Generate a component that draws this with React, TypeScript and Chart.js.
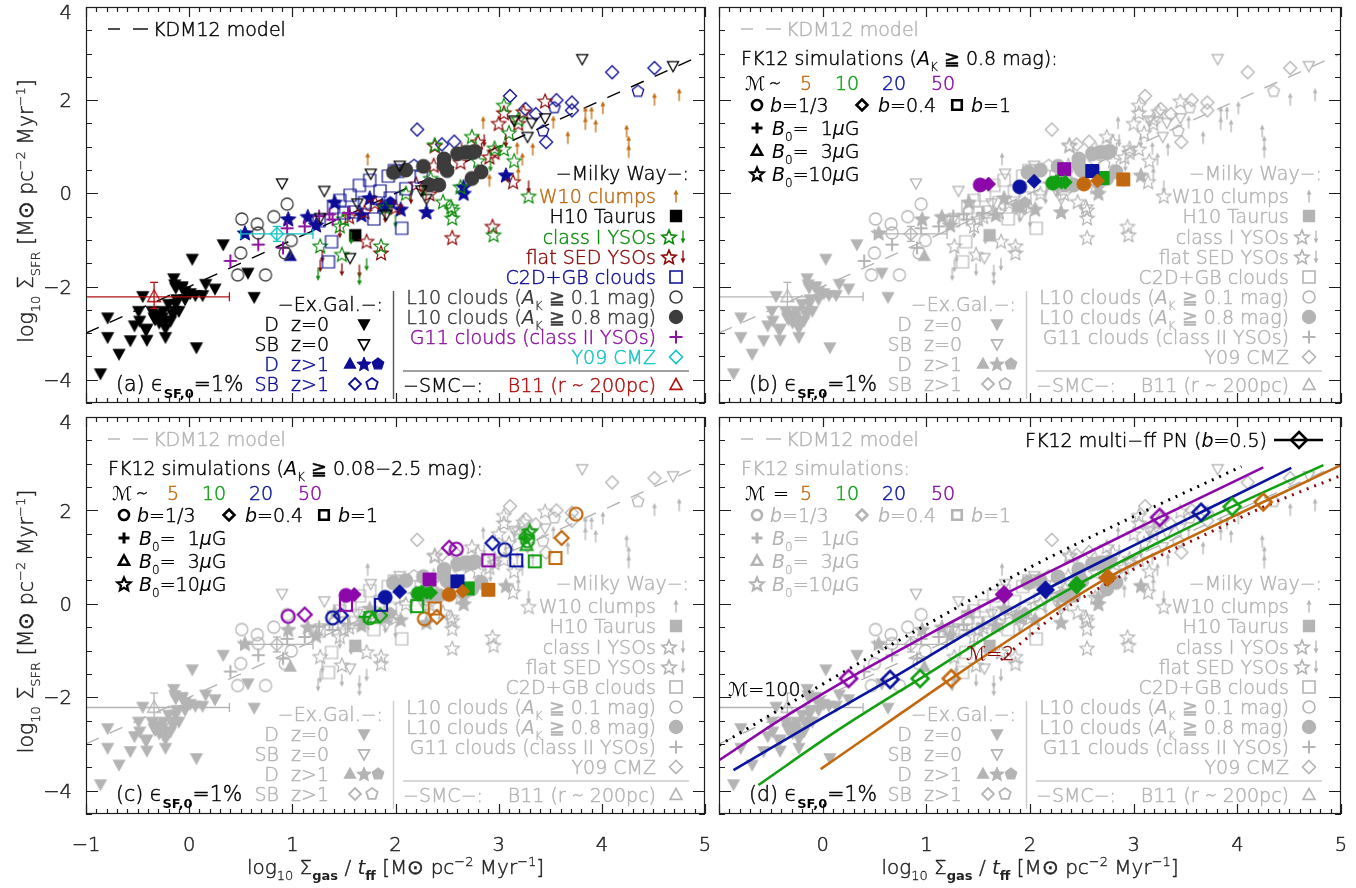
import React, { useEffect, useRef } from "react";
import { Chart, registerables } from "chart.js";

Chart.register(...registerables);

// ---------------- data (log10 Σgas/tff , log10 ΣSFR) ----------------
const kdmX = [-1, 5];
const kdmY = [-3, 3];

// Ex.Gal. D z=0 (filled down triangles)
const dz0X = [0.33, 0.03, 0.57, -0.15, -0.07, 0.16, 0.25, 0.63, -0.45, -0.79, -0.79, -0.68, -0.57, -0.41, -0.23, 0.07, -0.86, -0.42, -0.49, -0.34, -0.29, -0.23, -0.31, -0.16, -0.13, -0.04, -0.12, -0.07, 0.01, 0.06, 0.13, -0.2, -0.25, -0.36, -0.33, -0.26, -0.18, -0.14, -0.1, -0.13, -0.14, -0.04, -0.41, -0.53, -0.48, -0.23];
const dz0Y = [-1.09, -1.4, -1.7, -1.82, -1.99, -1.94, -2.04, -2.22, -2.2, -2.66, -3.08, -3.44, -3.15, -3.14, -3.08, -3.3, -3.86, -2.93, -2.52, -2.66, -2.77, -2.73, -2.59, -2.59, -2.37, -2.27, -2.27, -2.02, -2.14, -2.18, -2.18, -2.37, -2.52, -2.52, -2.7, -2.66, -2.73, -2.52, -2.52, -2.02, -1.95, -2.1, -2.9, -2.83, -2.73, -2.89];
// SB z=0 (open down triangles)
const sbz0X = [0.9, 1.31, 1.76, 3.81, 4.69, 3.32, 3.45, 3.15, 3.28, 2.04, 2.25, 2.3, 1.27, 1.56, 1.91, 1.63];
const sbz0Y = [0.22, 0.06, 0.43, 2.89, 2.74, 1.52, 1.62, 1.57, 1.22, 0.6, 0.07, -0.11, -0.52, -1.38, -0.45, -0.21];
// D z>1
const dz1TriX = [0.98, 1.9];
const dz1TriY = [-1.35, -0.3];
const dz1StarX = [1.41, 1.87, 3.07, 2.66, 2.66, 0.54, 0.96, 1.23, 1.67, 2.05, 2.3, 1.15, 1.75];
const dz1StarY = [-0.19, -0.26, 0.39, 0.14, 0.0, -0.85, -0.55, -0.68, -0.46, -0.34, -0.4, -0.5, -0.1];
const dz1PentX = [1.95];
const dz1PentY = [-0.2];
// SB z>1
const sbz1DiaX = [2.21, 3.11, 3.56, 3.71, 3.71, 3.36, 3.26, 3.46, 4.1, 4.51, 2.57, 2.45];
const sbz1DiaY = [1.37, 2.09, 2.0, 1.95, 1.78, 1.7, 1.81, 1.1, 2.6, 2.69, 1.11, 1.05];
const sbz1PentX = [4.35, 3.43, 2.18, 3.54];
const sbz1PentY = [2.19, 1.34, 0.6, 1.84];
// Milky Way
const w10X = [2.85, 3.84, 3.9, 4.01, 3.84, 3.94, 3.67, 3.53, 3.33, 3.23, 3.19, 2.91, 4.24, 4.26, 4.26, 4.51, 4.75, 1.73, 3.18];
const w10Y = [1.52, 1.73, 1.73, 1.84, 1.5, 1.45, 1.2, 1.53, 0.95, 0.74, 0.42, 0.28, 1.34, 1.1, 0.9, 2.02, 2.12, 0.74, 0.97];
const h10X = [1.61];
const h10Y = [-0.9];
const cl1StarX = [3.05, 3.19, 2.74, 2.38, 3.15, 3.29, 2.46, 2.54, 2.34, 2.63, 3.05, 2.96, 2.55, 2.55, 2.95, 1.27, 1.48, 1.86, 1.46, 1.5, 2.1, 2.8, 3.1, 1.9];
const cl1StarY = [1.89, 1.59, 1.22, 1.04, 0.7, -0.06, -0.18, -0.29, 0.32, 0.14, 0.95, 0.97, -0.36, -0.53, -0.89, -1.13, -1.31, -1.13, -0.7, -0.55, 0.0, 0.7, 1.3, -0.3];
const cl1ArrX = [1.25, 1.65, 1.72, 1.57, 2.92, 2.27, 2.0, 2.7];
const cl1ArrY = [-1.74, -1.84, -1.53, -0.96, 0.6, 0.05, -0.6, 0.9];
const flatStarX = [3.45, 3.05, 3.24, 2.38, 2.91, 3.14, 2.63, 2.37, 3.19, 2.96, 2.33, 2.94, 2.55, 1.72, 1.86, 1.7, 1.8, 2.0, 2.2, 2.8, 3.0, 1.55];
const flatStarY = [1.98, 1.73, 1.75, 1.02, 0.78, 0.25, 0.67, 0.6, 1.5, 0.88, -0.01, -0.71, -0.95, -1.03, -1.28, -0.4, -0.2, -0.3, 0.2, 1.1, 1.5, -0.5];
const flatArrX = [1.48, 1.65, 1.27, 1.29, 1.46, 2.26, 3.29, 2.86, 3.07, 2.64, 1.9, 2.15];
const flatArrY = [-1.64, -1.67, -1.56, -1.35, -0.83, 0.11, 0.14, 1.13, 1.12, 0.95, -0.5, -0.1];
const c2dX = [1.93, 1.75, 1.65, 1.56, 1.46, 1.99, 1.38, 1.35, 1.26, 1.5, 1.6, 1.79, 2.06, 2.02, 1.85, 1.7, 2.1, 1.95, 1.4, 2.25];
const c2dY = [0.37, 0.28, 0.17, -0.04, -0.15, 0.49, -1.04, -1.47, -0.59, -0.42, -0.4, -0.55, -0.75, 0.47, 0.05, -0.2, 0.1, -0.1, -0.3, 0.35];
const l10LoX = [0.95, 0.51, 0.66, 0.67, 0.5, 0.47, 0.74, 0.99, 0.93, 0.82];
const l10LoY = [-0.23, -0.55, -0.66, -0.85, -1.28, -1.75, -1.75, -1.01, -1.28, -0.5];
const l10HiX = [2.27, 2.33, 2.42, 2.47, 2.5, 2.68, 2.74, 2.77, 2.74, 2.83, 2.47, 2.1, 1.98, 2.6];
const l10HiY = [0.58, 0.18, 0.18, 0.74, 0.49, 0.88, 0.88, 0.9, 0.32, 0.46, 0.6, 0.5, 0.45, 0.85];
const g11X = [0.4, 0.67, 0.95, 0.91, 1.12, 1.26, 1.36, 1.39, 1.54];
const g11Y = [-1.45, -1.1, -0.75, -1.17, -0.71, -0.49, -0.45, -0.56, -0.42];
const y09X = [0.85];
const y09Y = [-0.87];
const y09ErrX = [0.5, 1.2];
const y09ErrY = [-1.03, -0.71];
// SMC
const b11X = [-0.34];
const b11Y = [-2.22];
const b11ErrX = [-1.1, 0.39];
const b11ErrY = [-2.47, -1.91];

// FK12 simulations, order of Mach numbers: 5, 10, 20, 50
const machNums = ["5", "10", "20", "50"];
const fkCircX = [2.52, 2.22, 1.9, 1.52];
const fkCircY = [0.2, 0.22, 0.14, 0.18];
const fkDiaX = [2.65, 2.34, 2.04, 1.6];
const fkDiaY = [0.27, 0.24, 0.26, 0.2];
const fkSqX = [2.9, 2.7, 2.6, 2.33];
const fkSqY = [0.3, 0.33, 0.48, 0.52];
const fkMagX = [2.3, 2.25, 2.27];
const fkMagY = [0.23, 0.27, 0.25];
// panel (c) open symbols: high threshold (A_K >= 2.5) and low threshold (A_K >= 0.08)
const fkHiCircX = [3.75, 3.28, 3.06, 2.59];
const fkHiCircY = [1.92, 1.35, 1.16, 1.17];
const fkHiDiaX = [3.61, 3.27, 2.94, 2.52];
const fkHiDiaY = [1.41, 1.45, 1.3, 1.2];
const fkHiSqX = [3.55, 3.35, 3.17, 2.9];
const fkHiSqY = [0.98, 0.91, 0.93, 0.93];
const fkHiMagX = [3.25, 3.27, 3.3];
const fkHiMagY = [1.4, 1.25, 1.55];
const fkLoCircX = [2.28, 1.75, 1.39, 0.96];
const fkLoCircY = [-0.32, -0.3, -0.3, -0.27];
const fkLoDiaX = [2.4, 1.85, 1.47, 1.12];
const fkLoDiaY = [-0.28, -0.25, -0.25, -0.23];
const fkLoSqX = [2.38, 2.21, 1.86, 1.52];
const fkLoSqY = [-0.1, -0.05, -0.02, -0.02];
const fkLoMagX = [1.7, 1.78];
const fkLoMagY = [-0.28, -0.3];

// panel (d) multi-freefall PN curves (b = 0.5)
const pnM5X = [-0.02, 0.5, 1.24, 2.0, 2.75, 3.5, 4.25, 5.0];
const pnM5Y = [-3.54, -2.74, -1.6, -0.48, 0.56, 1.38, 2.18, 2.97];
const pnM10X = [-0.62, 0.15, 0.94, 1.7, 2.45, 3.2, 3.95, 4.83];
const pnM10Y = [-3.88, -2.7, -1.6, -0.56, 0.4, 1.27, 2.08, 2.97];
const pnM20X = [-0.86, -0.1, 0.65, 1.4, 2.15, 2.9, 3.65, 4.52];
const pnM20Y = [-3.56, -2.57, -1.62, -0.63, 0.3, 1.14, 1.96, 2.91];
const pnM50X = [-1.0, -0.4, 0.25, 1.0, 1.75, 2.5, 3.25, 4.25];
const pnM50Y = [-3.35, -2.47, -1.6, -0.68, 0.2, 1.03, 1.85, 2.92];
const pnM100X = [-1.0, 0.0, 1.0, 2.0, 3.0, 4.04];
const pnM100Y = [-3.03, -1.72, -0.45, 0.78, 1.87, 2.94];
const pnM2X = [1.72, 2.0, 2.24, 2.7, 3.21, 3.66, 4.23, 4.99];
const pnM2Y = [-1.2, -0.68, -0.25, 0.38, 0.98, 1.45, 2.05, 2.74];
// diamonds on the PN curves (open, filled)
const pnDiaOpenX = [1.24, 4.25, 0.94, 3.95, 0.65, 3.65, 0.25, 3.25];
const pnDiaOpenY = [-1.6, 2.18, -1.6, 2.08, -1.62, 1.96, -1.6, 1.85];
const pnDiaOpenM = [0, 0, 1, 1, 2, 2, 3, 3];
const pnDiaFillX = [2.75, 2.45, 2.15, 1.75];
const pnDiaFillY = [0.56, 0.4, 0.3, 0.2];

// ---------------- styling ----------------
const FONT = '"DejaVu Sans", "Liberation Sans", sans-serif';
const WEIGHT = "300";
const GRAY = "#b4b4b4";
const COL = {
  orange: "#c2690f",
  green: "#0c8c0c",
  dred: "#8c0a0a",
  red: "#b01010",
  navy: "#0c0c96",
  purple: "#8c14a0",
  cyan: "#14c4c4",
  dgray: "#3c3c3c",
  black: "#000000",
};
const MACH_COL = ["#c2690f", "#12a012", "#0a14a0", "#8c08aa"];
const S = 19;

// ---------------- marker images ----------------
const cache = new Map<string, HTMLCanvasElement>();
function mk(shape: string, color: string, filled = false, size = 12, lw = 1.3): HTMLCanvasElement {
  const key = [shape, color, filled, size, lw].join("|");
  const hit = cache.get(key);
  if (hit) return hit;
  let s = Math.ceil(size + 2 * lw + 4);
  if (s % 2) s += 1;
  const c = document.createElement("canvas");
  c.width = s;
  c.height = s;
  const g = c.getContext("2d")!;
  g.translate(s / 2, s / 2);
  g.strokeStyle = color;
  g.fillStyle = color;
  g.lineWidth = lw;
  g.lineJoin = "miter";
  const r = size / 2;
  g.beginPath();
  const poly = (n: number, rr: number, inner?: number) => {
    const m = inner ? n * 2 : n;
    for (let k = 0; k < m; k++) {
      const rad = inner && k % 2 ? inner : rr;
      const a = -Math.PI / 2 + (k * 2 * Math.PI) / m;
      const x = rad * Math.cos(a);
      const y = rad * Math.sin(a) + (inner ? rr * 0.08 : 0);
      if (k === 0) g.moveTo(x, y);
      else g.lineTo(x, y);
    }
    g.closePath();
  };
  let fillIt = filled;
  switch (shape) {
    case "circle":
      g.arc(0, 0, r, 0, Math.PI * 2);
      break;
    case "square":
      g.rect(-r, -r, 2 * r, 2 * r);
      break;
    case "diamond":
      g.moveTo(0, -r);
      g.lineTo(r, 0);
      g.lineTo(0, r);
      g.lineTo(-r, 0);
      g.closePath();
      break;
    case "triUp":
      g.moveTo(0, -r);
      g.lineTo(r * 0.92, r * 0.68);
      g.lineTo(-r * 0.92, r * 0.68);
      g.closePath();
      break;
    case "triDown":
      g.moveTo(0, r);
      g.lineTo(r * 0.92, -r * 0.68);
      g.lineTo(-r * 0.92, -r * 0.68);
      g.closePath();
      break;
    case "star":
      poly(5, r, r * 0.45);
      break;
    case "pent":
      poly(5, r);
      break;
    case "plus":
      g.moveTo(-r, 0);
      g.lineTo(r, 0);
      g.moveTo(0, -r);
      g.lineTo(0, r);
      fillIt = false;
      break;
    case "arrowUp":
      g.moveTo(0, r);
      g.lineTo(0, -r + 3);
      g.stroke();
      g.beginPath();
      g.moveTo(0, -r);
      g.lineTo(2.4, -r + 5);
      g.lineTo(-2.4, -r + 5);
      g.closePath();
      g.fill();
      cache.set(key, c);
      return c;
    case "arrowDown":
      g.moveTo(0, -r);
      g.lineTo(0, r - 3);
      g.stroke();
      g.beginPath();
      g.moveTo(0, r);
      g.lineTo(2.4, r - 5);
      g.lineTo(-2.4, r - 5);
      g.closePath();
      g.fill();
      cache.set(key, c);
      return c;
  }
  if (fillIt) g.fill();
  g.stroke();
  cache.set(key, c);
  return c;
}

// ---------------- dataset helpers ----------------
const pts = (xs: number[], ys: number[]) => xs.map((x, i) => ({ x, y: ys[i] }));
function sc(xs: number[], ys: number[], style: any, order = 20) {
  return {
    data: pts(xs, ys),
    pointStyle: style,
    pointRadius: 6,
    pointHoverRadius: 6,
    showLine: false,
    order,
  };
}
function ln(xs: number[], ys: number[], color: string, width: number, dash: number[] = [], order = 30, smooth = false) {
  return {
    data: pts(xs, ys),
    showLine: true,
    borderColor: color,
    borderWidth: width,
    borderDash: dash,
    pointRadius: 0,
    pointHoverRadius: 0,
    tension: smooth ? 0.4 : 0,
    cubicInterpolationMode: smooth ? "monotone" : "default",
    fill: false,
    order,
  };
}
function errBar(xs: number[], ys: number[], color: string, horiz: boolean, cap: number) {
  return {
    data: pts(xs, ys),
    showLine: true,
    borderColor: color,
    borderWidth: 1.3,
    pointStyle: "line",
    pointRotation: horiz ? 90 : 0,
    pointRadius: cap,
    pointHoverRadius: cap,
    pointBorderColor: color,
    pointBorderWidth: 1.3,
    order: 19,
  };
}

function obsDatasets(gray: boolean) {
  const g = (c: string) => (gray ? GRAY : c);
  return [
    errBar(b11ErrX, [b11Y[0], b11Y[0]], g(COL.red), true, 4.5),
    errBar([b11X[0], b11X[0]], b11ErrY, g(COL.red), false, 4),
    sc(b11X, b11Y, mk("triUp", g(COL.red), false, 14, 1.3), 18),
    errBar(y09ErrX, [y09Y[0], y09Y[0]], g(COL.cyan), true, 5),
    errBar([y09X[0], y09X[0]], y09ErrY, g(COL.cyan), false, 4),
    sc(y09X, y09Y, mk("diamond", g(COL.cyan), false, 13, 1.4), 18),
    sc(dz0X, dz0Y, mk("triDown", g("#000"), true, 12), 20),
    sc(sbz0X, sbz0Y, mk("triDown", g("#000"), false, 12), 20),
    sc(l10LoX, l10LoY, mk("circle", g(COL.dgray), false, 12), 20),
    sc(l10HiX, l10HiY, mk("circle", g(COL.dgray), true, 13.5), 20),
    sc(g11X, g11Y, mk("plus", g(COL.purple), false, 13, 2), 20),
    sc(c2dX, c2dY, mk("square", g(COL.navy), false, 12, 1.2), 20),
    sc(w10X, w10Y, mk("arrowUp", g(COL.orange), true, 13, 1.3), 20),
    sc(cl1ArrX, cl1ArrY, mk("arrowDown", g(COL.green), true, 13, 1.3), 20),
    sc(flatArrX, flatArrY, mk("arrowDown", g(COL.dred), true, 13, 1.3), 20),
    sc(cl1StarX, cl1StarY, mk("star", g(COL.green), false, 15, 1.2), 20),
    sc(flatStarX, flatStarY, mk("star", g(COL.dred), false, 15, 1.2), 20),
    sc(sbz1DiaX, sbz1DiaY, mk("diamond", g(COL.navy), false, 13, 1.3), 20),
    sc(sbz1PentX, sbz1PentY, mk("pent", g(COL.navy), false, 12, 1.3), 20),
    sc(dz1StarX, dz1StarY, mk("star", g(COL.navy), true, 16, 1), 20),
    sc(dz1TriX, dz1TriY, mk("triUp", g(COL.navy), true, 12), 20),
    sc(dz1PentX, dz1PentY, mk("pent", g(COL.navy), true, 12), 20),
    sc(h10X, h10Y, mk("square", g("#000"), true, 11), 20),
  ];
}

function fkFilled() {
  const idx = [0, 1, 2, 3];
  return [
    sc(fkSqX, fkSqY, idx.map((i) => mk("square", MACH_COL[i], true, 13, 1)), 2),
    sc(fkCircX, fkCircY, idx.map((i) => mk("circle", MACH_COL[i], true, 14, 1)), 2),
    sc(fkDiaX, fkDiaY, idx.map((i) => mk("diamond", MACH_COL[i], true, 14, 1)), 1),
    sc(fkMagX, fkMagY, [mk("plus", MACH_COL[1], false, 12, 3), mk("triUp", MACH_COL[1], true, 13, 1), mk("star", MACH_COL[1], true, 15, 1)], 1),
  ];
}
function fkOpen(xsC: number[], ysC: number[], xsD: number[], ysD: number[], xsS: number[], ysS: number[], mx: number[], my: number[]) {
  const idx = [0, 1, 2, 3];
  return [
    sc(xsS, ysS, idx.map((i) => mk("square", MACH_COL[i], false, 12, 2.2)), 3),
    sc(xsC, ysC, idx.map((i) => mk("circle", MACH_COL[i], false, 13, 2.2)), 3),
    sc(xsD, ysD, idx.map((i) => mk("diamond", MACH_COL[i], false, 14, 2.2)), 3),
    sc(mx, my, [mk("plus", MACH_COL[1], false, 12, 2.5), mk("triUp", MACH_COL[1], false, 13, 2), mk("star", MACH_COL[1], false, 15, 2)].slice(0, mx.length), 3),
  ];
}

// ---------------- text helpers ----------------
type Seg = { t: string; c?: string; it?: boolean; b?: boolean; sub?: boolean; sup?: boolean };
const T = (t: string): Seg[] => [{ t }];
function fontOf(s: Seg, size: number) {
  const sz = s.sub || s.sup ? Math.round(size * 0.64) : size;
  const w = s.b ? "bold" : s.t.includes("ℳ") ? "400" : WEIGHT;
  return `${s.it ? "italic " : ""}${w} ${sz}px ${FONT}`;
}
function rich(ctx: CanvasRenderingContext2D, x: number, y: number, segs: Seg[], size: number, color: string, align = "left") {
  let w = 0;
  for (const s of segs) {
    ctx.font = fontOf(s, size);
    w += ctx.measureText(s.t).width;
  }
  let cx = align === "left" ? x : align === "right" ? x - w : x - w / 2;
  ctx.textAlign = "left";
  ctx.textBaseline = "alphabetic";
  const base = y + size * 0.365;
  for (const s of segs) {
    ctx.font = fontOf(s, size);
    const col = s.c || color;
    ctx.fillStyle = col;
    const dy = s.sub ? size * 0.3 : s.sup ? -size * 0.42 : 0;
    ctx.fillText(s.t, cx, base + dy);
    if (!s.b && !s.it && !s.t.includes("ℳ")) {
      ctx.strokeStyle = col;
      ctx.lineWidth = s.sub || s.sup ? 0.3 : 0.45;
      ctx.lineJoin = "round";
      ctx.strokeText(s.t, cx, base + dy);
    }
    cx += ctx.measureText(s.t).width;
  }
  return w;
}
function put(ctx: CanvasRenderingContext2D, im: HTMLCanvasElement, x: number, y: number) {
  ctx.drawImage(im, Math.round(x - im.width / 2), Math.round(y - im.height / 2));
}
function hline(ctx: CanvasRenderingContext2D, x0: number, x1: number, y: number, color: string, lw = 1.3) {
  ctx.strokeStyle = color;
  ctx.lineWidth = lw;
  ctx.beginPath();
  ctx.moveTo(x0, y);
  ctx.lineTo(x1, y);
  ctx.stroke();
}

const minus = (v: number) => (v < 0 ? "\u2212" + Math.abs(v) : String(v));
const yTitle: Seg[] = [
  { t: "log" }, { t: "10", sub: true }, { t: " Σ" }, { t: "SFR", sub: true }, { t: " [M" }, { t: "⊙" },
  { t: " pc" }, { t: "−2", sup: true }, { t: " Myr" }, { t: "−1", sup: true }, { t: "]" },
];
const xTitle: Seg[] = [
  { t: "log" }, { t: "10", sub: true }, { t: " Σ" }, { t: "gas", sub: true, b: true }, { t: " / " }, { t: "t", it: true },
  { t: "ff", sub: true, b: true }, { t: " [M" }, { t: "⊙" }, { t: " pc" }, { t: "−2", sup: true }, { t: " Myr" },
  { t: "−1", sup: true }, { t: "]" },
];

function drawAxes(chart: any, xLab: boolean, yLab: boolean) {
  const ctx: CanvasRenderingContext2D = chart.ctx;
  const a = chart.chartArea;
  const xs = chart.scales.x;
  const ys = chart.scales.y;
  ctx.save();
  ctx.strokeStyle = "#1e1e1e";
  ctx.lineWidth = 1.2;
  ctx.beginPath();
  for (let i = -10; i <= 50; i++) {
    const px = Math.round(xs.getPixelForValue(i / 10)) + 0.5;
    const L = i % 10 === 0 ? 10 : 5;
    ctx.moveTo(px, a.bottom);
    ctx.lineTo(px, a.bottom - L);
    ctx.moveTo(px, a.top);
    ctx.lineTo(px, a.top + L);
  }
  for (let i = -9; i <= 8; i++) {
    const v = i / 2;
    const py = Math.round(ys.getPixelForValue(v)) + 0.5;
    const L = Math.abs(v % 2) < 1e-9 ? 12 : 6;
    ctx.moveTo(a.left, py);
    ctx.lineTo(a.left + L, py);
    ctx.moveTo(a.right, py);
    ctx.lineTo(a.right - L, py);
  }
  ctx.stroke();
  ctx.strokeRect(Math.round(a.left) + 0.5, Math.round(a.top) + 0.5, Math.round(a.right - a.left) - 1, Math.round(a.bottom - a.top) - 1);
  if (yLab) {
    for (const v of [-4, -2, 0, 2, 4]) {
      let py = ys.getPixelForValue(v);
      if (v === 4) py += 5;
      rich(ctx, a.left - 14, py, T(minus(v)), 19.5, "#222", "right");
    }
    ctx.save();
    ctx.translate(a.left - 60, (a.top + a.bottom) / 2 + 6);
    ctx.rotate(-Math.PI / 2);
    rich(ctx, 0, 0, yTitle, 20.5, "#222", "center");
    ctx.restore();
  }
  if (xLab) {
    for (const v of [-1, 0, 1, 2, 3, 4, 5]) {
      if (!yLab && v === -1) continue;
      rich(ctx, xs.getPixelForValue(v), a.bottom + 30, T(minus(v)), 19.5, "#222", "center");
    }
    rich(ctx, (a.left + a.right) / 2, a.bottom + 53, xTitle, 20, "#222", "center");
  }
  ctx.restore();
}

function kdmLegend(ctx: CanvasRenderingContext2D, fl: number, ft: number, color: string) {
  hline(ctx, fl + 22, fl + 34, ft + 22, color, 1.4);
  hline(ctx, fl + 47, fl + 62, ft + 22, color, 1.4);
  rich(ctx, fl + 67, ft + 22, T("KDM12 model"), S, color);
}

function obsLegend(ctx: CanvasRenderingContext2D, fl: number, ft: number, gray: boolean) {
  const g = (c: string) => (gray ? GRAY : c);
  const R = fl + 570;
  const M1 = fl + 590;
  const Ma = fl + 583;
  const Mb = fl + 597;
  rich(ctx, fl + 603, ft + 166, T("−Milky Way−:"), S, g("#000"), "right");
  rich(ctx, R, ft + 189, T("W10 clumps"), S, g(COL.orange), "right");
  put(ctx, mk("arrowUp", g(COL.orange), true, 13, 1.3), M1, ft + 189);
  rich(ctx, R, ft + 209, T("H10 Taurus"), S, g("#000"), "right");
  put(ctx, mk("square", g("#000"), true, 11), M1, ft + 209);
  rich(ctx, R, ft + 230, T("class I YSOs"), S, g(COL.green), "right");
  put(ctx, mk("star", g(COL.green), false, 15, 1.6), Ma, ft + 230);
  put(ctx, mk("arrowDown", g(COL.green), true, 13, 1.3), Mb, ft + 230);
  rich(ctx, R, ft + 250, T("flat SED YSOs"), S, g(COL.dred), "right");
  put(ctx, mk("star", g(COL.dred), false, 15, 1.6), Ma, ft + 250);
  put(ctx, mk("arrowDown", g(COL.dred), true, 13, 1.3), Mb, ft + 250);
  rich(ctx, R, ft + 270, T("C2D+GB clouds"), S, g(COL.navy), "right");
  put(ctx, mk("square", g(COL.navy), false, 12, 1.6), M1, ft + 270);
  const l10 = (th: string): Seg[] => [{ t: "L10 clouds (" }, { t: "A", it: true }, { t: "K", sub: true }, { t: " ≧ " + th + " mag)" }];
  rich(ctx, R, ft + 290, l10("0.1"), S, g(COL.dgray), "right");
  put(ctx, mk("circle", g(COL.dgray), false, 12, 1.6), M1, ft + 290);
  rich(ctx, R, ft + 310, l10("0.8"), S, g(COL.dgray), "right");
  put(ctx, mk("circle", g(COL.dgray), true, 13), M1, ft + 310);
  rich(ctx, R, ft + 330, T("G11 clouds (class II YSOs)"), S, g(COL.purple), "right");
  put(ctx, mk("plus", g(COL.purple), false, 13, 2), M1, ft + 330);
  rich(ctx, R, ft + 350, T("Y09 CMZ"), S, g(COL.cyan), "right");
  put(ctx, mk("diamond", g(COL.cyan), false, 13, 1.6), M1, ft + 350);
  hline(ctx, fl + 317, fl + 603, ft + 364, gray ? "#cccccc" : "#808080", 1.4);
  rich(ctx, fl + 317, ft + 378, T("−SMC−:"), S, g("#000"));
  rich(ctx, R, ft + 378, T("B11 (r ∼ 200pc)"), S, g(COL.red), "right");
  put(ctx, mk("triUp", g(COL.red), false, 13, 1.6), M1, ft + 378);
  // Ex.Gal.
  ctx.strokeStyle = gray ? "#cccccc" : "#555555";
  ctx.lineWidth = 1.4;
  ctx.beginPath();
  ctx.moveTo(fl + 307.5, ft + 284);
  ctx.lineTo(fl + 307.5, ft + 392);
  ctx.stroke();
  rich(ctx, fl + 297, ft + 297, T("−Ex.Gal.−:"), S, g("#000"), "right");
  rich(ctx, fl + 243, ft + 317, T("D  z=0"), S, g("#000"), "right");
  put(ctx, mk("triDown", g("#000"), true, 12), fl + 278, ft + 317);
  rich(ctx, fl + 243, ft + 337, T("SB  z=0"), S, g("#000"), "right");
  put(ctx, mk("triDown", g("#000"), false, 12, 1.6), fl + 278, ft + 337);
  rich(ctx, fl + 243, ft + 357, T("D  z>1"), S, g(COL.navy), "right");
  put(ctx, mk("triUp", g(COL.navy), true, 12), fl + 264, ft + 357);
  put(ctx, mk("star", g(COL.navy), true, 15, 1), fl + 278, ft + 357);
  put(ctx, mk("pent", g(COL.navy), true, 12), fl + 292, ft + 357);
  rich(ctx, fl + 243, ft + 377, T("SB  z>1"), S, g(COL.navy), "right");
  put(ctx, mk("diamond", g(COL.navy), false, 12, 1.8), fl + 269, ft + 377);
  put(ctx, mk("pent", g(COL.navy), false, 12, 1.8), fl + 286, ft + 377);
}

function panelLabel(ctx: CanvasRenderingContext2D, fl: number, ft: number, l: string) {
  rich(ctx, fl + 30, ft + 377, [{ t: "(" + l + ") " }, { t: "ϵ" }, { t: "SF,0", sub: true, b: true }, { t: "=1%" }], 20.5, "#000");
}

function fkLegend(ctx: CanvasRenderingContext2D, fl: number, ft: number, title: Seg[], dMode: boolean) {
  const k = dMode ? GRAY : "#000";
  rich(ctx, fl + 22, ft + 51, title, S, k);
  rich(ctx, fl + 26, ft + 76, T("ℳ"), S, "#000");
  rich(ctx, fl + (dMode ? 54 : 50), ft + 76, T(dMode ? "=" : "∼"), S, "#000");
  const cx = [87, 128, 175, 224];
  machNums.forEach((m, i) => rich(ctx, fl + cx[i], ft + 76, T(m), S, MACH_COL[i], "center"));
  const lw = 2.6;
  put(ctx, mk("circle", k, false, 10, lw), fl + 38, ft + 98);
  rich(ctx, fl + 51, ft + 98, [{ t: "b", it: true }, { t: "=1/3" }], S, k);
  put(ctx, mk("diamond", k, false, 11, lw), fl + 143, ft + 98);
  rich(ctx, fl + 159, ft + 98, [{ t: "b", it: true }, { t: "=0.4" }], S, k);
  put(ctx, mk("square", k, false, 9.5, lw), fl + 238, ft + 98);
  rich(ctx, fl + 252, ft + 98, [{ t: "b", it: true }, { t: "=1" }], S, k);
  const bRow = (val: string, y: number, im: HTMLCanvasElement) => {
    put(ctx, im, fl + 38, y);
    rich(ctx, fl + 53, y, [{ t: "B", it: true }, { t: "0", sub: true }, { t: "=" + val }, { t: "μ", it: true }, { t: "G" }], S, k);
  };
  bRow("  1", ft + 121, mk("plus", k, false, 11, 3));
  bRow("  3", ft + 144, mk("triUp", k, false, 11, lw));
  bRow("10", ft + 167, mk("star", k, false, 14, 2.2));
}

// ---------------- panels ----------------
type Panel = {
  key: string;
  left: number;
  top: number;
  w: number;
  h: number;
  pad: { left: number; right: number; top: number; bottom: number };
  datasets: () => any[];
  deco: (chart: any) => void;
};

const PANELS: Panel[] = [
  {
    key: "a",
    left: 0,
    top: 0,
    w: 712,
    h: 410,
    pad: { left: 86, right: 4, top: 5, bottom: 5 },
    datasets: () => [ln(kdmX, kdmY, "#000", 1.4, [14, 12], 30), ...obsDatasets(false)],
    deco: (chart) => {
      const a = chart.chartArea;
      drawAxes(chart, false, true);
      kdmLegend(chart.ctx, a.left, a.top, "#000");
      obsLegend(chart.ctx, a.left, a.top, false);
      panelLabel(chart.ctx, a.left, a.top, "a");
    },
  },
  {
    key: "b",
    left: 712,
    top: 0,
    w: 644,
    h: 410,
    pad: { left: 6, right: 15, top: 5, bottom: 5 },
    datasets: () => [ln(kdmX, kdmY, GRAY, 1.4, [14, 12], 30), ...obsDatasets(true), ...fkFilled()],
    deco: (chart) => {
      const a = chart.chartArea;
      drawAxes(chart, false, false);
      kdmLegend(chart.ctx, a.left, a.top, GRAY);
      fkLegend(chart.ctx, a.left, a.top, [{ t: "FK12 simulations (" }, { t: "A", it: true }, { t: "K", sub: true }, { t: " ≧ 0.8 mag):" }], false);
      obsLegend(chart.ctx, a.left, a.top, true);
      panelLabel(chart.ctx, a.left, a.top, "b");
    },
  },
  {
    key: "c",
    left: 0,
    top: 410,
    w: 712,
    h: 478,
    pad: { left: 86, right: 4, top: 6, bottom: 74 },
    datasets: () => [
      ln(kdmX, kdmY, GRAY, 1.4, [14, 12], 30),
      ...obsDatasets(true),
      ...fkOpen(fkHiCircX, fkHiCircY, fkHiDiaX, fkHiDiaY, fkHiSqX, fkHiSqY, fkHiMagX, fkHiMagY),
      ...fkOpen(fkLoCircX, fkLoCircY, fkLoDiaX, fkLoDiaY, fkLoSqX, fkLoSqY, fkLoMagX, fkLoMagY),
      ...fkFilled(),
    ],
    deco: (chart) => {
      const a = chart.chartArea;
      drawAxes(chart, true, true);
      kdmLegend(chart.ctx, a.left, a.top, GRAY);
      fkLegend(chart.ctx, a.left, a.top, [{ t: "FK12 simulations (" }, { t: "A", it: true }, { t: "K", sub: true }, { t: " ≧ 0.08−2.5 mag):" }], false);
      obsLegend(chart.ctx, a.left, a.top, true);
      panelLabel(chart.ctx, a.left, a.top, "c");
    },
  },
  {
    key: "d",
    left: 712,
    top: 410,
    w: 644,
    h: 478,
    pad: { left: 6, right: 15, top: 6, bottom: 74 },
    datasets: () => [
      ln(kdmX, kdmY, GRAY, 1.4, [14, 12], 30),
      ...obsDatasets(true),
      ln(pnM100X, pnM100Y, "#000", 3, [2, 6], 6, true),
      ln(pnM2X, pnM2Y, COL.dred, 3, [2, 6], 6, true),
      ln(pnM5X, pnM5Y, MACH_COL[0], 2.6, [], 5, true),
      ln(pnM10X, pnM10Y, MACH_COL[1], 2.6, [], 5, true),
      ln(pnM20X, pnM20Y, MACH_COL[2], 2.6, [], 5, true),
      ln(pnM50X, pnM50Y, MACH_COL[3], 2.6, [], 5, true),
      sc(pnDiaOpenX, pnDiaOpenY, pnDiaOpenM.map((m) => mk("diamond", MACH_COL[m], false, 17, 2.6)), 1),
      sc(pnDiaFillX, pnDiaFillY, [0, 1, 2, 3].map((m) => mk("diamond", MACH_COL[m], true, 18, 1)), 1),
    ],
    deco: (chart) => {
      const a = chart.chartArea;
      const ctx = chart.ctx;
      drawAxes(chart, true, false);
      kdmLegend(ctx, a.left, a.top, GRAY);
      fkLegend(ctx, a.left, a.top, T("FK12 simulations:"), true);
      obsLegend(ctx, a.left, a.top, true);
      panelLabel(ctx, a.left, a.top, "d");
      rich(ctx, a.left + 548, a.top + 23, [{ t: "FK12 multi−ff PN (" }, { t: "b", it: true }, { t: "=0.5)" }], S, "#000", "right");
      hline(ctx, a.left + 555, a.left + 604, a.top + 23, "#000", 2.6);
      put(ctx, mk("diamond", "#000", false, 16, 2.6), a.left + 580, a.top + 23);
      rich(ctx, a.left + 9, a.top + 272, [{ t: "ℳ" }, { t: "=100" }], S, "#000");
      rich(ctx, a.left + 247, a.top + 236, [{ t: "ℳ" }, { t: "=2" }], S, COL.dred);
    },
  },
];

export default function App() {
  const boxRef = useRef<HTMLDivElement>(null);
  useEffect(() => {
    const box = boxRef.current!;
    const canvases = Array.from(box.querySelectorAll("canvas")) as HTMLCanvasElement[];
    const charts = PANELS.map((p, i) =>
      new Chart(canvases[i], {
        type: "scatter",
        data: { datasets: p.datasets() as any },
        options: {
          animation: false,
          responsive: false,
          maintainAspectRatio: false,
          devicePixelRatio: 1,
          events: [],
          layout: { padding: p.pad },
          scales: {
            x: { type: "linear", min: -1, max: 5, display: false },
            y: { type: "linear", min: -4.5, max: 4, display: false },
          },
          plugins: { legend: { display: false }, tooltip: { enabled: false } },
        },
        plugins: [{ id: "deco" + p.key, afterDraw: (c: any) => p.deco(c) }],
      } as any)
    );
    return () => charts.forEach((c) => c.destroy());
  }, []);
  return (
    <div ref={boxRef} style={{ position: "fixed", left: 0, top: 0, width: 1356, height: 888, background: "#fff", overflow: "hidden" }}>
      {PANELS.map((p) => (
        <canvas
          key={p.key}
          width={p.w}
          height={p.h}
          style={{ position: "absolute", left: p.left, top: p.top, width: p.w, height: p.h }}
        />
      ))}
    </div>
  );
}
